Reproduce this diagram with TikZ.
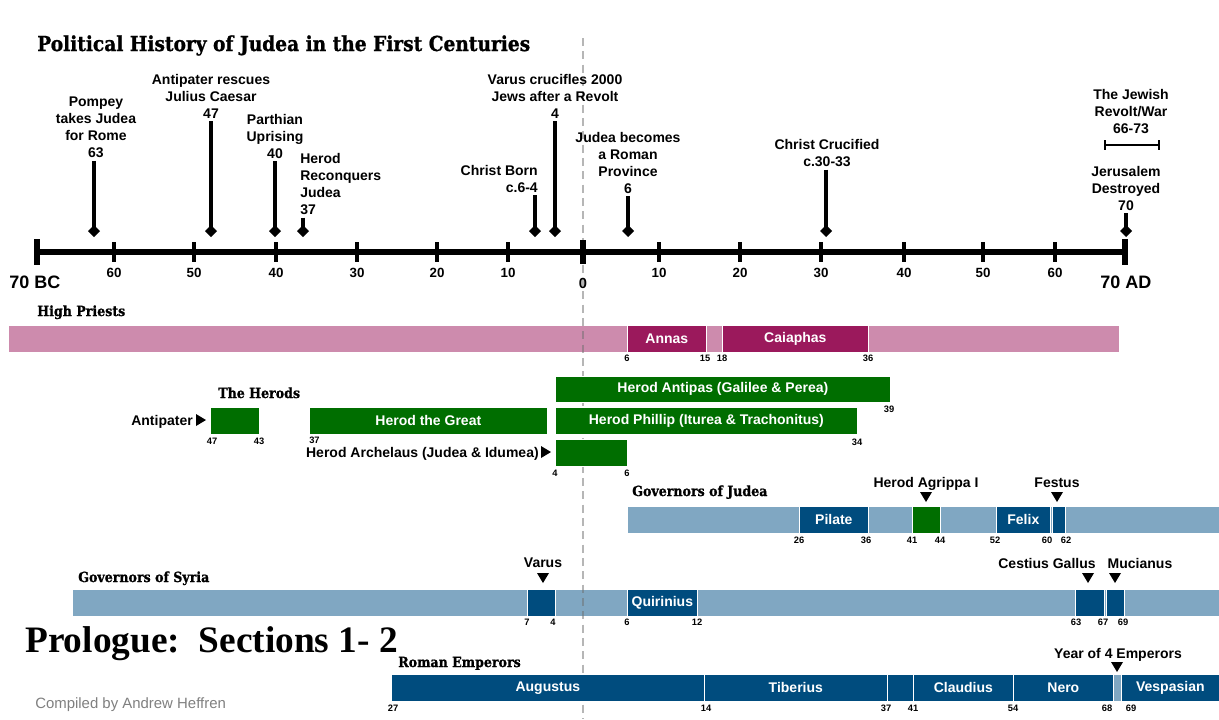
\documentclass[tikz,border=0pt]{standalone}
\usepackage{fontspec}
\setmainfont{Liberation Sans}
\newfontfamily\slabfont[FakeStretch=0.9,BoldFeatures={FakeBold=1}]{DejaVu Serif}
\newfontfamily\ttlfont[FakeStretch=0.9,BoldFeatures={FakeBold=1}]{DejaVu Serif}
\newfontfamily\tnrfont{Liberation Serif}
\usetikzlibrary{arrows.meta}
\definecolor{pinkL}{RGB}{205,139,173}
\definecolor{magD}{RGB}{155,25,92}
\definecolor{grn}{RGB}{0,110,0}
\definecolor{blueL}{RGB}{128,167,194}
\definecolor{blueD}{RGB}{0,76,126}
\definecolor{txtgray}{RGB}{128,128,128}
\definecolor{dashgray}{RGB}{110,110,110}
\newcommand\evf{\bfseries\fontsize{10.5}{12.75}\selectfont}
\newcommand\bxf{\bfseries\fontsize{10.5}{12}\selectfont}
\newcommand\numf{\bfseries\fontsize{7}{8}\selectfont}
\newcommand\tkf{\bfseries\fontsize{10}{12}\selectfont}
\newcommand\secf{\slabfont\bfseries\fontsize{10.5}{12}\selectfont}
\newcommand\bx[7]{\node[boxst, fill=#6, minimum width={(#4-#2)*0.75pt}, minimum height={(#5-#3)*0.75pt}, anchor=north west] (#1) at (#2,#3) {#7};}
\newcommand\dtri[2]{\fill (#1-6,#2-5) -- (#1+6,#2-5) -- (#1,#2+5) -- cycle;}
\newcommand\rtri[2]{\fill (#1-5,#2-6) -- (#1+5,#2) -- (#1-5,#2+6) -- cycle;}
\begin{document}
\begin{tikzpicture}[x=0.75pt,y=-0.75pt,
  evt/.style={font=\evf, align=center, inner sep=0pt},
  evarrow/.style={line width=2.6pt, -{Diamond[length=9pt,width=9pt]}, shorten <=2pt},
  warbar/.style={line width=1.6pt, {Bar[width=7pt]}-{Bar[width=7pt]}},
  sec/.style={font=\secf, inner sep=0pt, anchor=base west},
  num/.style={font=\numf, inner sep=0pt, anchor=base},
  tk/.style={font=\tkf, inner sep=0pt, anchor=base},
  big/.style={font=\bfseries\fontsize{13.5}{15}\selectfont, inner sep=0pt, anchor=base west},
  boxst/.style={rectangle, draw=white, line width=0.5pt, inner sep=0pt, text=white, font=\bxf},
  ann/.style={font=\evf, inner sep=0pt, anchor=base},
  dashln/.style={draw=dashgray, opacity=0.5, line width=2.2pt, dash pattern=on 6pt off 4pt}]
\useasboundingbox (0,0) rectangle (1219,719);
\fill[white] (0,0) rectangle (1219,719);

% light bars
\bx{hpbar}{8}{325}{1119}{352}{pinkL}{}
\bx{jbar}{627}{506}{1219}{533}{blueL}{}
\bx{sbar}{72}{589}{1219}{616}{blueL}{}
\bx{yfour}{1113}{674}{1121}{701}{blueL}{}

% year zero guide
\coordinate (zt) at (583,38);
\coordinate (zb) at (583,719);
\draw[dashln] (zt) -- (zb);

% dark boxes
\bx{annas}{627}{325}{706}{352}{magD}{Annas}
\bx{caiaphas}{722}{325}{868}{352}{magD}{Caiaphas}
\bx{antipbox}{210}{407}{259}{434}{grn}{}
\bx{hgreat}{309}{407}{547}{434}{grn}{Herod the Great}
\bx{hantipas}{555}{376}{890}{402}{grn}{Herod Antipas (Galilee \& Perea)}
\bx{hphillip}{555}{407}{857}{434}{grn}{Herod Phillip (Iturea \& Trachonitus)}
\bx{harch}{555}{439}{627}{466}{grn}{}
\bx{pilate}{799}{506}{868}{533}{blueD}{Pilate}
\bx{agrippa}{912}{506}{940}{533}{grn}{}
\bx{felix}{996}{506}{1050}{533}{blueD}{Felix}
\bx{festus}{1052}{506}{1065}{533}{blueD}{}
\bx{varusb}{527}{589}{555}{616}{blueD}{}
\bx{quir}{627}{589}{697}{616}{blueD}{Quirinius}
\bx{cestius}{1075}{589}{1104}{616}{blueD}{}
\bx{mucian}{1106}{589}{1124}{616}{blueD}{}
\bx{august}{391}{674}{704}{701}{blueD}{Augustus}
\bx{tiber}{704}{674}{887}{701}{blueD}{Tiberius}
\bx{calig}{887}{674}{913}{701}{blueD}{}
\bx{claud}{913}{674}{1013}{701}{blueD}{Claudius}
\bx{nero}{1013}{674}{1113}{701}{blueD}{Nero}
\bx{vesp}{1121}{674}{1219}{701}{blueD}{Vespasian}

% title
\node[font=\ttlfont\bfseries\fontsize{15.5}{17}\selectfont, anchor=base west, inner sep=0pt] (title) at (37,51) {Political History of Judea in the First Centuries};

% axis
\coordinate (axL) at (37,252);
\coordinate (axR) at (1125,252);
\draw[line width=5pt] (axL) -- (axR);
\draw[line width=4.5pt] (37,239) -- (37,265);
\draw[line width=4.5pt] (1125,239) -- (1125,265);
\draw[line width=3.8pt] (583,240) -- (583,264);
\foreach \x/\l in {114/60,194/50,276/40,357/30,437/20,508/10,659/10,740/20,821/30,904/40,983/50,1055/60}{
  \draw[line width=2.6pt] (\x,242) -- (\x,262);
  \node[tk] (tk\x) at (\x,277.5) {\l};
}
\node[tk, font=\bfseries\fontsize{11}{12}\selectfont] (tkzero) at (583,288) {0};
\node[big] (bc) at (9,288) {70 BC};
\node[big] (ad) at (1100,288) {70 AD};

% events
\node[evt, anchor=north] (pompey) at (96,97) {Pompey\\takes Judea\\for Rome\\63};
\coordinate (e63) at (94,237);
\draw[evarrow] (pompey.south -| e63) -- (e63);
\node[evt, anchor=north] (antip) at (211,74) {Antipater rescues\\Julius Caesar\\47};
\coordinate (e47) at (211,237);
\draw[evarrow] (antip.south -| e47) -- (e47);
\node[evt, anchor=north] (parth) at (275,114) {Parthian\\Uprising\\40};
\coordinate (e40) at (275,237);
\draw[evarrow] (parth.south -| e40) -- (e40);
\node[evt, align=left, anchor=north west] (hrec) at (300,153) {Herod\\Reconquers\\Judea\\37};
\coordinate (e37) at (303,237);
\draw[evarrow] (hrec.south -| e37) -- (e37);
\node[evt, align=right, anchor=north east] (cborn) at (538,165) {Christ Born\\c.6-4};
\coordinate (e6bc) at (535,237);
\draw[evarrow] (cborn.south -| e6bc) -- (e6bc);
\node[evt, anchor=north] (varusc) at (555,74) {Varus crucifles 2000\\Jews after a Revolt\\4};
\coordinate (e4) at (555,237);
\draw[evarrow] (varusc.south -| e4) -- (e4);
\node[evt, anchor=north] (jprov) at (628,132) {Judea becomes\\a Roman\\Province\\6};
\coordinate (e6) at (628,237);
\draw[evarrow] (jprov.south -| e6) -- (e6);
\node[evt, anchor=north] (ccruc) at (827,139) {Christ Crucified\\c.30-33};
\coordinate (e30) at (826,237);
\draw[evarrow] (ccruc.south -| e30) -- (e30);
\node[evt, anchor=north] (jrev) at (1131,89) {The Jewish\\Revolt/War\\66-73};
\coordinate (w66) at (1104,145);
\coordinate (w73) at (1160,145);
\draw[warbar] (w66) -- (w73);
\node[evt, anchor=north] (jdest) at (1126,166) {Jerusalem\\Destroyed\\70};
\coordinate (e70) at (1126,237);
\draw[evarrow] (jdest.south -| e70) -- (e70);

% section labels
\node[sec] (hp) at (37,316) {High Priests};
\node[sec] (herods) at (218,398) {The Herods};
\node[sec] (govj) at (632,496) {Governors of Judea};
\node[sec] (govs) at (78,582) {Governors of Syria};
\node[sec] (rome) at (398,667) {Roman Emperors};

% annotations with markers
\node[ann, anchor=base east] (lantip) at (193,425) {Antipater};
\rtri{201}{420}
\node[ann, anchor=base east] (larch) at (539,457) {Herod Archelaus (Judea \& Idumea)};
\rtri{546}{452}
\node[ann] (lagrip) at (926,487) {Herod Agrippa I};
\dtri{926}{497}
\node[ann] (lfest) at (1057,487) {Festus};
\dtri{1057}{497}
\node[ann] (lvar) at (543,567) {Varus};
\dtri{543}{578}
\node[ann] (lcest) at (1047,568) {Cestius Gallus};
\dtri{1088}{578}
\node[ann] (lmuc) at (1140,568) {Mucianus};
\dtri{1115}{578}
\node[ann] (lyear) at (1118,658) {Year of 4 Emperors};
\dtri{1117}{667}

% year numbers
\foreach \x/\l in {627/6,705/15,722/18,868/36}{\node[num] (hpn\x) at (\x,361.5) {\l};}
\node[num] (hn47) at (212,444.5) {47};
\node[num] (hn43) at (259,444.5) {43};
\node[num, anchor=base west] (hn37) at (309,443.5) {37};
\node[num] (hn39) at (889,412.5) {39};
\node[num] (hn34) at (857,445.5) {34};
\node[num] (hn4) at (555,476.5) {4};
\node[num] (hn6) at (627,476.5) {6};
\foreach \x/\l in {799/26,866/36,912/41,940/44,995/52,1047/60,1066/62}{\node[num] (jn\x) at (\x,543.5) {\l};}
\foreach \x/\l in {527/7,553/4,627/6,697/12,1076/63,1103/67,1123/69}{\node[num] (sn\x) at (\x,625.5) {\l};}
\foreach \x/\l in {393/27,706/14,886/37,913/41,1013/54,1107/68,1131/69}{\node[num] (en\x) at (\x,711.5) {\l};}

% footer texts
\node[font=\tnrfont\bfseries\fontsize{28}{30}\selectfont, anchor=base west, inner sep=0pt] (prol) at (25,652) {Prologue:\ \ Sections 1- 2};
\node[font=\fontsize{11.2}{12}\selectfont, text=txtgray, anchor=base west, inner sep=0pt] (comp) at (35,708) {Compiled by Andrew Heffren};
\end{tikzpicture}
\end{document}
